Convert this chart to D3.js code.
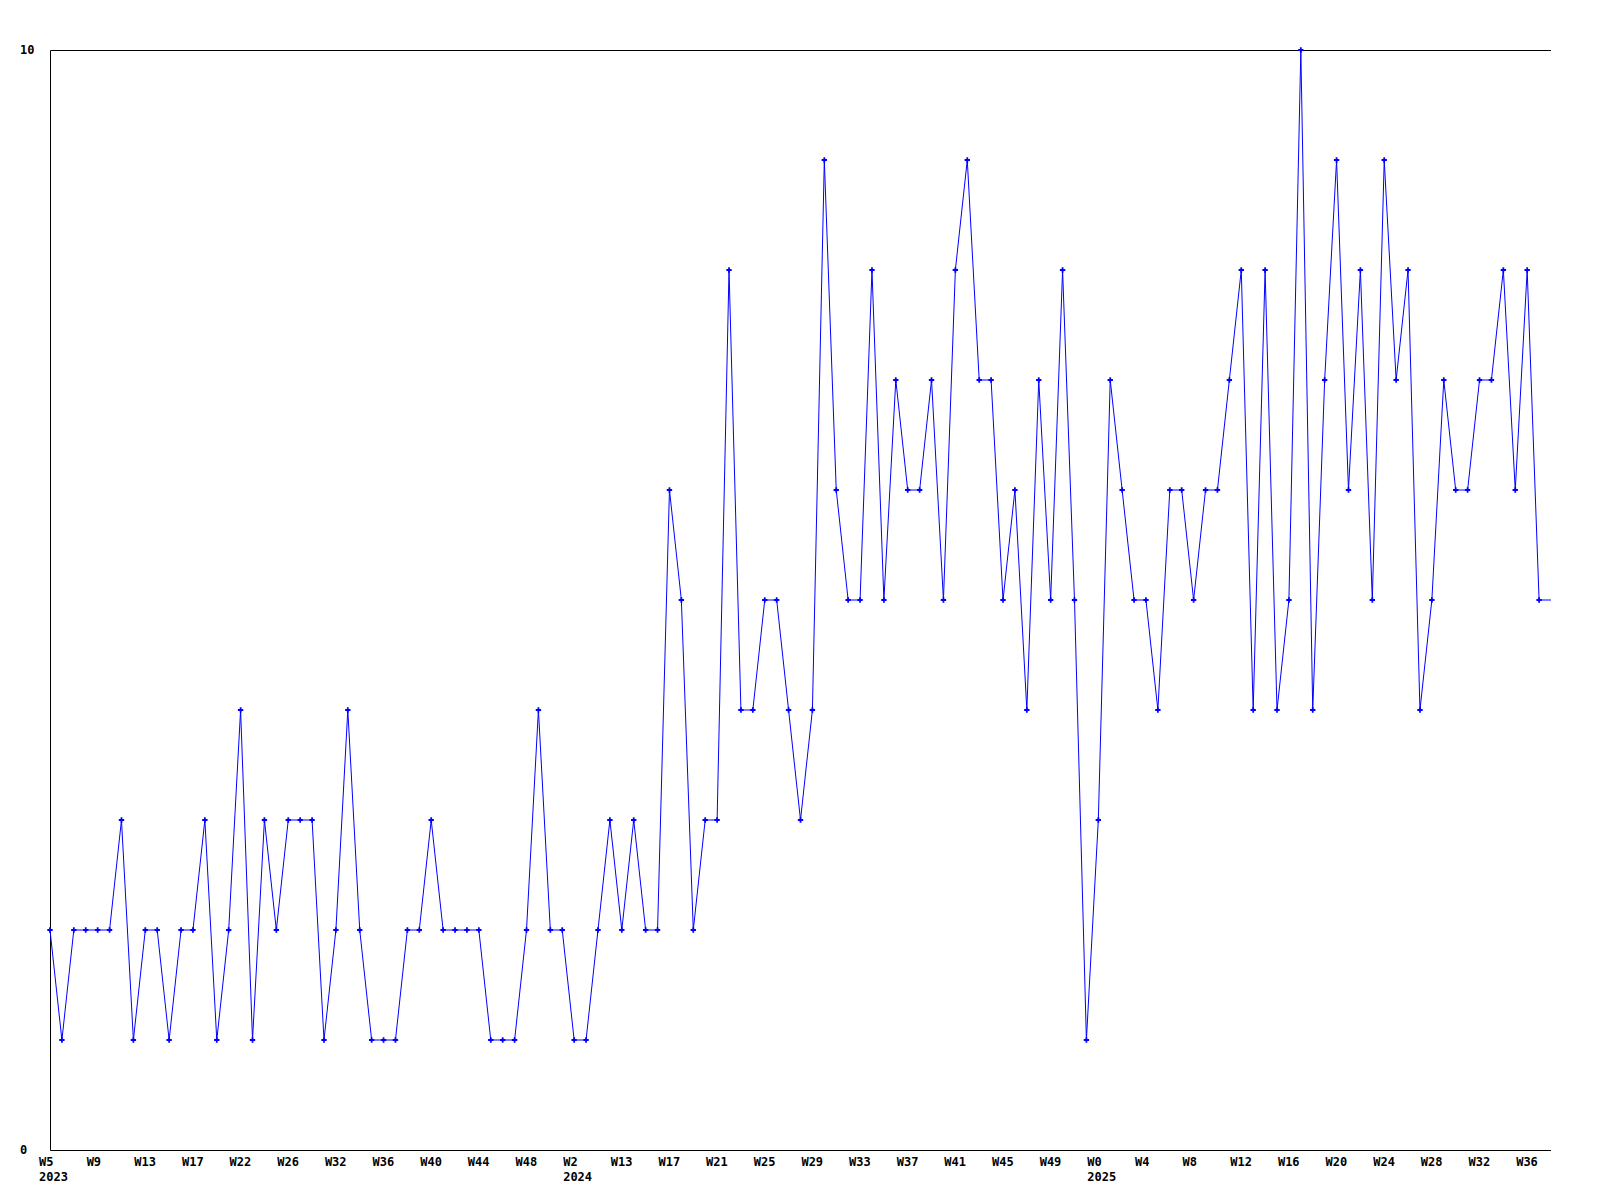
<!DOCTYPE html>
<html>
<head>
<meta charset="utf-8">
<script src="https://cdn.jsdelivr.net/npm/d3@7"></script>
<style>
  html, body { margin: 0; padding: 0; background: #fff; }
  text { font-family: "DejaVu Sans Mono", "Liberation Mono", monospace; font-size: 12px; font-weight: bold; fill: #000; }
</style>
</head>
<body>
<script>
// weekly counts, one per week
var values = [
    2, 1, 2, 2, 2, 2, 3, 1, 2, 2, 1, 2, 2, 3, 1, 2, 4, 1, 3, 2,
    3, 3, 3, 1, 2, 4, 2, 1, 1, 1, 2, 2, 3, 2, 2, 2, 2, 1, 1, 1,
    2, 4, 2, 2, 1, 1, 2, 3, 2, 3, 2, 2, 6, 5, 2, 3, 3, 8, 4, 4,
    5, 5, 4, 3, 4, 9, 6, 5, 5, 8, 5, 7, 6, 6, 7, 5, 8, 9, 7, 7,
    5, 6, 4, 7, 5, 8, 5, 1, 3, 7, 6, 5, 5, 4, 6, 6, 5, 6, 6, 7,
    8, 4, 8, 4, 5, 10, 4, 7, 9, 6, 8, 5, 9, 7, 8, 4, 5, 7, 6, 6,
    7, 7, 8, 6, 8, 5
];

// labels shown every 4th week
var weekLabels = ["W5", "W9", "W13", "W17", "W22", "W26", "W32", "W36", "W40", "W44", "W48",
    "W2", "W13", "W17", "W21", "W25", "W29", "W33", "W37", "W41", "W45", "W49",
    "W0", "W4", "W8", "W12", "W16", "W20", "W24", "W28", "W32", "W36"];
var labelStep = 4;

var yearLabels = [{index: 0, text: "2023"}, {index: 44, text: "2024"}, {index: 88, text: "2025"}];

var yTicks = [0, 10];

var width = 1600,
    height = 1200,
    margin = {top: 50, right: 49, bottom: 50, left: 50};

var x = d3.scaleLinear()
    .domain([0, values.length])
    .range([margin.left, width - margin.right]);

var y = d3.scaleLinear()
    .domain([0, 10])
    .range([height - margin.bottom, margin.top]);

var svg = d3.select("body").append("svg")
    .attr("width", width)
    .attr("height", height);

// frame: top, left, bottom
var x0 = x.range()[0], x1 = x.range()[1];
var yTop = y(10), yBot = y(0);
svg.append("path")
    .attr("d", "M" + x1 + "," + (yTop + 0.5) + "H" + (x0 + 0.5) + "V" + (yBot + 0.5) + "H" + x1)
    .attr("fill", "none")
    .attr("stroke", "#000")
    .attr("stroke-width", 1);

// y labels
svg.selectAll("text.ylab")
    .data(yTicks)
    .enter().append("text")
    .attr("class", "ylab")
    .attr("x", 20)
    .attr("y", function (d) { return y(d); })
    .attr("dy", "0.35em")
    .text(function (d) { return d; });

// x labels
svg.selectAll("text.xlab")
    .data(weekLabels)
    .enter().append("text")
    .attr("class", "xlab")
    .attr("x", function (d, i) { return x(i * labelStep) - 11; })
    .attr("y", yBot + 12)
    .attr("dy", "0.35em")
    .text(function (d) { return d; });

svg.selectAll("text.year")
    .data(yearLabels)
    .enter().append("text")
    .attr("class", "year")
    .attr("x", function (d) { return x(d.index) - 11; })
    .attr("y", yBot + 27)
    .attr("dy", "0.35em")
    .text(function (d) { return d.text; });

// line, carried flat to the end of the axis
var pts = values.map(function (v, i) { return [x(i), y(v)]; });
pts.push([x(values.length), y(values[values.length - 1])]);

svg.append("path")
    .datum(pts)
    .attr("fill", "none")
    .attr("stroke", "#0000ff")
    .attr("stroke-width", 1)
    .attr("d", d3.line());

svg.selectAll("path.mark")
    .data(values)
    .enter().append("path")
    .attr("class", "mark")
    .attr("transform", function (d, i) { return "translate(" + x(i) + "," + y(d) + ")"; })
    .attr("d", d3.symbol(d3.symbolCross).size(16))
    .attr("fill", "#0000ff");
</script>
</body>
</html>
